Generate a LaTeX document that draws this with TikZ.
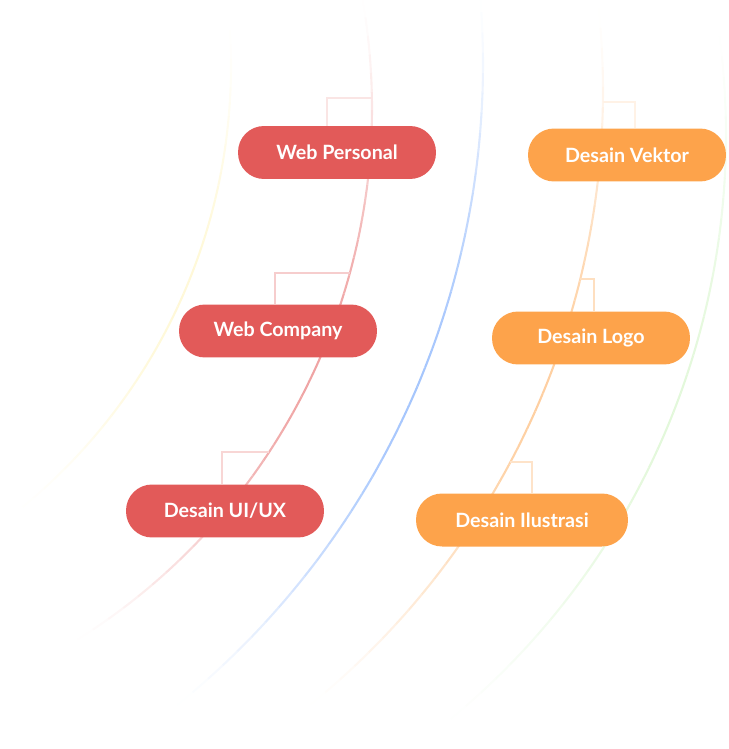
\documentclass[tikz,border=0pt]{standalone}
\usepackage{fontspec}
\setsansfont{Lato}
\definecolor{cred}{HTML}{E25A59}
\definecolor{corange}{HTML}{FDA34B}
\definecolor{cblue}{HTML}{4D8DFA}
\definecolor{cgreen}{HTML}{5AD62A}
\definecolor{cyellow}{HTML}{FFE14D}
\tikzset{
  every picture/.style={font=\sffamily},
  pill/.style={fill=#1, text=white, rounded corners=0.52cm, minimum width=3.96cm, minimum height=1.06cm, inner sep=0pt, font=\sffamily\bfseries\fontsize{11.2}{13}\selectfont},
  pill/.default=cred,
  ring/.style={line width=1.2pt},
  link/.style={draw=#1, line width=1.2pt},
}
% faded ring: colour, centre x, centre y, radius, start, end, peak strength
\newcommand{\ringarc}[7]{%
  \foreach \i in {0,...,39}{
    \pgfmathsetmacro{\ringA}{(#5)+((#6)-(#5))*\i/40}
    \pgfmathsetmacro{\ringB}{(#5)+((#6)-(#5))*(\i+1)/40}
    \pgfmathsetmacro{\ringP}{(#7)*sin(180*(\i+0.5)/40)^1.5}
    \draw[ring, draw=#1!\ringP!white] (#2,#3) ++(\ringA:#4) arc[start angle=\ringA, end angle=\ringB, radius=#4];
  }}

\begin{document}
\begin{tikzpicture}[x=0.02cm, y=-0.02cm]
  \useasboundingbox (0,0) rectangle (728,749);
  % rings
  \ringarc{cyellow}{-340}{66}{571}{-5}{52}{22}
  \ringarc{cred}{-255}{108}{627}{-10}{58}{55}
  \ringarc{cblue}{-342}{64}{825}{-5}{51}{50}
  \ringarc{corange}{-187}{91}{790}{-6}{51}{52}
  \ringarc{cgreen}{-31}{135}{757}{-9}{52}{17}
  % where the links meet the rings
  \path (-255,108) ++(-0.9:627) coordinate (wpRing);
  \path (-255,108) ++(15.26:627) coordinate (wcRing);
  \path (-255,108) ++(33.27:627) coordinate (uiRing);
  \path (-187,91) ++(0.8:790) coordinate (vekRing);
  \path (-187,91) ++(13.77:790) coordinate (logoRing);
  \path (-187,91) ++(28.01:790) coordinate (ilRing);
  % web
  \node[pill] (wp) at (337,152.5) {Web Personal};
  \node[pill] (wc) at (278,331) {Web Company};
  \node[pill] (ui) at (225,511) {Desain UI/UX};
  % design
  \node[pill=corange] (vek) at (627,155) {Desain Vektor};
  \node[pill=corange] (logo) at (591,338) {Desain Logo};
  \node[pill=corange, minimum width=4.24cm] (il) at (522,520) {Desain Ilustrasi};
  \draw[link=cred!16!white] (wpRing) -| ([xshift=-0.2cm]wp.north);
  \draw[link=cred!30!white] (wcRing) -| ([xshift=-0.06cm]wc.north);
  \draw[link=cred!25!white] (uiRing) -| ([xshift=-0.06cm]ui.north);
  \draw[link=corange!14!white] (vekRing) -| ([xshift=0.16cm]vek.north);
  \draw[link=corange!35!white] (logoRing) -| ([xshift=0.06cm]logo.north);
  \draw[link=corange!30!white] (ilRing) -| ([xshift=0.2cm]il.north);
\end{tikzpicture}
\end{document}
